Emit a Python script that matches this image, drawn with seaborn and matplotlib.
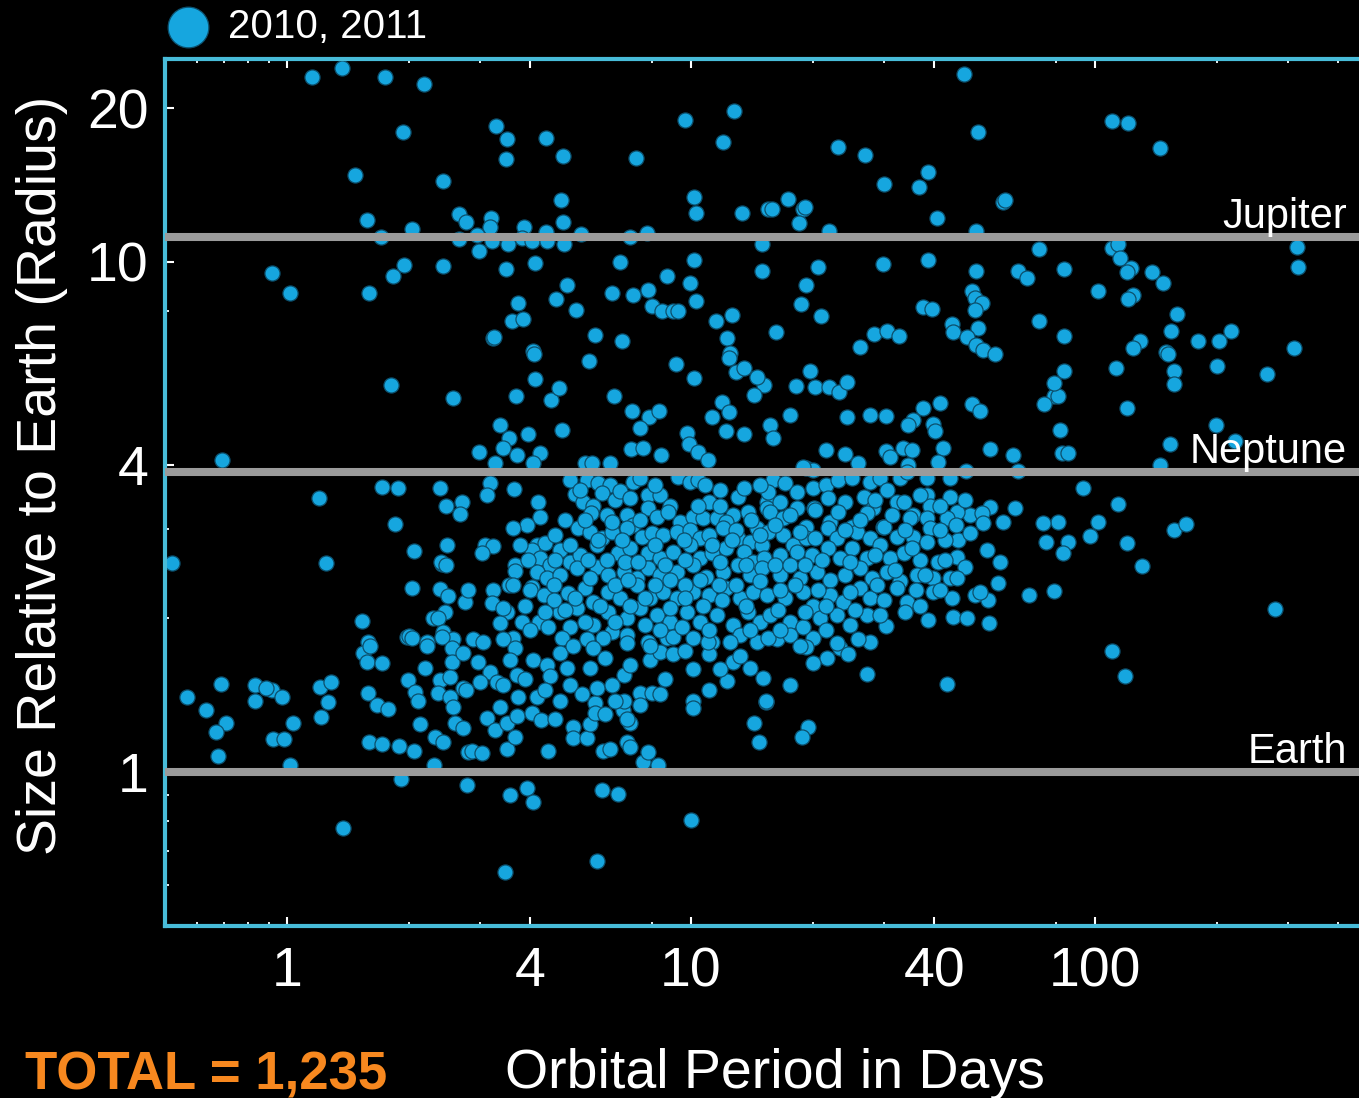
import matplotlib
matplotlib.use("Agg")
import matplotlib.pyplot as plt
from matplotlib.ticker import FixedLocator, FixedFormatter, NullFormatter
import pandas as pd
import seaborn as sns

# ---------------- data: (orbital period [days], radius [Earth radii]) ----------------
giants_short = [(1.15, 23.0), (1.37, 24.0), (1.75, 23.0), (2.18, 22.3), (1.94, 18.0), (1.47, 14.8),
                (2.43, 14.4), (1.58, 12.1), (2.67, 12.4), (2.77, 12.0), (1.71, 11.2), (2.04, 11.6),
                (2.67, 11.1), (1.95, 9.86), (2.43, 9.8), (1.83, 9.4), (0.92, 9.5), (1.02, 8.7), (1.6, 8.7)]

giants_mid = [(3.29, 18.5), (3.50, 17.4), (3.48, 15.9), (4.38, 17.5), (4.82, 16.1), (7.31, 16.0),
              (9.67, 19.0), (12.8, 19.8), (12.0, 17.2), (4.77, 13.2), (4.82, 12.0), (10.2, 13.4),
              (10.3, 12.5), (13.4, 12.5), (15.5, 12.7), (3.20, 12.2), (3.18, 11.7), (3.86, 11.7),
              (4.38, 11.45), (5.34, 11.35), (7.06, 11.2), (7.78, 11.4), (2.95, 11.3), (3.21, 11.0),
              (3.52, 10.85), (3.81, 11.15), (4.04, 11.0), (4.40, 11.0), (4.85, 10.85), (2.98, 10.5),
              (3.48, 9.7), (4.12, 9.95), (6.67, 10.0), (10.2, 10.1), (15.0, 10.85), (15.0, 9.6),
              (4.93, 9.0), (4.63, 8.46), (3.73, 8.3), (3.60, 7.66), (3.84, 7.73), (3.24, 7.1),
              (3.26, 7.12), (5.2, 8.05), (5.79, 7.2), (6.75, 7.0), (4.07, 6.7), (6.38, 8.7),
              (7.2, 8.6), (7.84, 8.8), (8.0, 8.2), (8.48, 8.0), (9.05, 8.0), (9.3, 8.0),
              (8.72, 9.4), (9.94, 9.1), (10.3, 8.4), (11.5, 7.66), (12.6, 7.87), (12.3, 7.1),
              (12.5, 6.63)]

giants_long = [(47.4, 23.4), (51.3, 18.0), (23.1, 16.8), (26.9, 16.2), (30.1, 14.2), (36.7, 14.0),
               (38.6, 15.0), (40.6, 12.2), (59.2, 13.1), (60.0, 13.2), (15.9, 12.7), (17.4, 13.3),
               (18.9, 12.7), (19.2, 12.8), (18.5, 11.9), (21.9, 11.5), (50.8, 11.5), (20.6, 9.78),
               (29.9, 9.9), (38.6, 10.1), (50.8, 9.6), (72.7, 10.6), (64.5, 9.6), (67.9, 9.3),
               (83.9, 9.7), (19.3, 9.0), (18.7, 8.28), (21.0, 7.83), (16.2, 7.3), (26.2, 6.81),
               (28.4, 7.23), (30.6, 7.33), (32.8, 7.16), (37.6, 8.16), (39.5, 8.1), (49.7, 8.78),
               (50.6, 8.5), (52.5, 8.3), (50.6, 8.05), (44.3, 7.54), (44.5, 7.3), (51.3, 7.43),
               (48.2, 7.13), (50.8, 6.88), (52.8, 6.72), (56.6, 6.59), (72.7, 7.67), (83.9, 7.16)]

giants_far = [(110, 18.9), (121, 18.7), (145, 16.7), (110, 10.65), (114, 10.85), (115, 10.2),
              (123, 9.73), (120, 9.55), (138, 9.55), (147, 9.1), (102, 8.77), (124, 8.6),
              (121, 8.46), (160, 7.9), (154, 7.33), (129, 7.0), (124, 6.78), (150, 6.66),
              (180, 7.0), (203, 7.0), (217, 7.33), (316, 10.7), (318, 9.78), (311, 6.78)]

far_out = [(83.9, 6.10), (113, 6.2), (152, 6.6), (157, 6.10), (157, 5.76), (200, 6.26), (267, 6.03),
           (79.3, 5.45), (81.0, 5.45), (120, 5.17), (81.9, 4.68), (199, 4.79), (222, 4.45),
           (153, 4.40), (82.8, 4.22), (85.5, 4.22), (145, 3.99), (93.2, 3.60), (114, 3.36),
           (81.1, 3.09), (102, 3.09), (97.2, 2.90), (85.5, 2.82), (83.5, 2.69), (120, 2.81),
           (157, 2.98), (168, 3.06), (131, 2.53), (279, 2.09), (79.3, 2.26)]

inner_mid = [(1.81, 5.74), (2.57, 5.41), (0.69, 4.09), (1.20, 3.44), (1.72, 3.62), (1.88, 3.60),
             (2.39, 3.60), (2.48, 3.32), (2.71, 3.39), (2.68, 3.20), (1.85, 3.06), (2.06, 2.71),
             (2.49, 2.79), (2.42, 2.56), (2.40, 2.58), (2.48, 2.55), (0.52, 2.57), (1.25, 2.57),
             (2.04, 2.29), (2.39, 2.28), (2.50, 2.21), (2.76, 2.15), (2.80, 2.27), (2.46, 2.06),
             (2.30, 2.0), (2.36, 2.0), (1.53, 1.98), (2.43, 1.88), (1.98, 1.84), (2.0, 1.85),
             (2.04, 1.83), (1.59, 1.80), (2.22, 1.80), (2.57, 1.82)]

inner_small = [(0.565, 1.40), (0.687, 1.49), (0.631, 1.32), (0.706, 1.25), (0.667, 1.20), (0.675, 1.075),
               (0.833, 1.48), (0.833, 1.38), (0.918, 1.45), (0.887, 1.46), (0.972, 1.40), (1.035, 1.25),
               (0.923, 1.16), (0.983, 1.16), (1.017, 1.03), (1.21, 1.47), (1.285, 1.50), (1.264, 1.37),
               (1.214, 1.28), (1.376, 0.777), (1.54, 1.71), (1.605, 1.77), (1.58, 1.64), (1.72, 1.635),
               (1.59, 1.43), (1.67, 1.35), (1.78, 1.33), (1.60, 1.145), (1.72, 1.135), (1.89, 1.125),
               (2.06, 1.10), (1.92, 0.97), (2.31, 1.03), (1.99, 1.515), (2.07, 1.435), (2.11, 1.38),
               (2.13, 1.24), (2.32, 1.17), (2.43, 1.145), (2.20, 1.60), (2.22, 1.77), (2.42, 1.84),
               (2.56, 1.75), (2.56, 1.64), (2.72, 1.71), (2.39, 1.515), (2.53, 1.535), (2.36, 1.43),
               (2.53, 1.40), (2.57, 1.34), (2.72, 1.46), (2.60, 1.25), (2.72, 1.22), (2.80, 1.095),
               (2.79, 0.945)]

small_mid = [(3.57, 0.90), (3.93, 0.93), (4.06, 0.874), (6.02, 0.92), (6.6, 0.905), (10.0, 0.805),
             (3.46, 0.637), (5.86, 0.67), (2.87, 1.10), (3.04, 1.09), (3.50, 1.11), (4.43, 1.10),
             (6.07, 1.10), (6.30, 1.11), (6.96, 1.145), (7.06, 1.12), (7.6, 1.046), (7.84, 1.094),
             (8.28, 1.03), (10.1, 1.38), (10.1, 1.335), (14.3, 1.25), (14.7, 1.145), (15.3, 1.37),
             (12.3, 1.51), (3.13, 1.275), (3.27, 1.21), (3.66, 1.17), (3.50, 1.25), (3.71, 1.29),
             (4.04, 1.305), (4.25, 1.265), (5.1, 1.225), (5.1, 1.166), (5.53, 1.166), (5.62, 1.24),
             (5.79, 1.365), (5.79, 1.305), (6.79, 1.32), (7.06, 1.25)]

small_long = [(16.3, 1.82), (20.0, 1.83), (19.3, 1.76), (23.4, 1.75), (24.5, 1.70), (21.7, 1.67),
              (20.0, 1.635), (27.7, 1.80), (27.3, 1.555), (43.0, 1.49), (17.6, 1.48), (15.1, 1.53),
              (15.35, 1.38), (19.5, 1.225), (18.8, 1.17), (110, 1.73), (118.6, 1.54)]

neptunes_long = [(79.3, 5.79), (74.7, 5.27), (19.7, 6.12), (18.2, 5.71), (20.3, 5.69), (22.0, 5.69),
                 (23.2, 5.56), (24.3, 5.82), (15.2, 5.74), (17.6, 5.0), (15.7, 4.79), (16.0, 4.52),
                 (24.3, 4.97), (27.7, 5.01), (30.3, 4.99), (37.6, 5.17), (41.3, 5.29), (35.5, 4.90),
                 (34.4, 4.79), (39.7, 4.81), (40.1, 4.66), (49.7, 5.27), (51.9, 5.10), (21.6, 4.28),
                 (24.0, 4.20), (25.9, 4.03), (30.3, 4.26), (31.1, 4.15), (33.4, 4.32), (35.3, 4.28),
                 (42.0, 4.32), (40.8, 4.05), (34.4, 4.0), (55.0, 4.30), (62.7, 4.18), (47.9, 3.89),
                 (64.5, 3.89), (19.3, 3.94), (20.1, 3.91), (55.0, 3.31), (63.4, 3.30), (59.3, 3.09),
                 (49.1, 3.19), (52.5, 3.22), (52.8, 3.08), (74.4, 3.08), (75.5, 2.82), (53.9, 2.72),
                 (58.2, 2.58), (57.4, 2.35), (54.4, 2.17), (50.5, 2.22), (68.7, 2.22), (44.5, 2.01),
                 (48.2, 2.00), (38.6, 1.99), (54.5, 1.96), (30.3, 1.93), (51.9, 2.25), (45.8, 2.85),
                 (49.1, 2.94), (42.5, 2.85), (45.6, 2.64), (47.6, 2.52), (43.8, 2.40), (45.6, 2.40)]

neptunes_mid = [(4.09, 6.61), (5.59, 6.40), (4.12, 5.89), (3.69, 5.46), (4.50, 5.36), (4.72, 5.66),
                (6.45, 5.46), (9.2, 6.31), (10.15, 5.92), (12.4, 6.48), (12.9, 6.08), (13.5, 6.19),
                (14.6, 5.95), (14.3, 5.48), (11.9, 5.31), (12.4, 5.08), (11.3, 4.97), (12.2, 4.66),
                (13.5, 4.60), (7.15, 5.11), (7.88, 4.97), (8.33, 5.11), (7.48, 4.73), (7.10, 4.30),
                (7.60, 4.32), (8.43, 4.18), (9.80, 4.62), (9.90, 4.39), (10.4, 4.24), (11.0, 4.09),
                (3.37, 4.79), (3.54, 4.51), (3.96, 4.60), (4.80, 4.68), (2.98, 4.24), (3.43, 4.32),
                (3.71, 4.18), (4.23, 4.22), (3.27, 4.03), (4.06, 4.03), (5.48, 4.03), (5.70, 4.03),
                (6.30, 4.03), (3.18, 3.69), (3.12, 3.49), (3.65, 3.59), (4.19, 3.39), (4.23, 3.16),
                (3.92, 3.05), (3.62, 3.01), (5.15, 3.51), (3.09, 2.79), (3.24, 2.77), (3.04, 2.69),
                (3.67, 2.55), (3.67, 2.48), (3.54, 2.33), (3.24, 2.27), (3.21, 2.14), (3.50, 2.06),
                (3.88, 2.12), (3.81, 1.97), (3.37, 1.96), (2.89, 1.82), (4.21, 1.97), (4.04, 2.30)]

core_a = [(5.53, 3.74), (5.89, 3.69), (6.30, 3.66), (7.19, 3.71), (9.29, 3.79), (9.94, 3.71),
          (10.4, 3.74), (10.8, 3.66), (5.41, 3.38), (5.72, 3.33), (6.02, 3.53), (6.48, 3.41),
          (6.67, 3.55), (7.06, 3.44), (7.82, 3.49), (8.38, 3.49), (8.87, 3.33), (11.1, 3.38),
          (13.1, 3.46), (13.5, 3.60), (15.4, 3.38), (5.66, 3.22), (6.19, 3.19), (6.93, 3.19),
          (7.19, 3.05), (7.82, 3.29), (8.24, 3.16), (9.39, 3.09), (10.1, 3.16), (10.7, 3.15),
          (11.6, 3.15), (12.7, 3.19), (13.8, 3.24), (14.6, 3.01), (15.4, 3.29), (12.2, 3.09),
          (5.26, 3.01), (5.62, 2.95), (6.02, 2.88), (6.39, 2.95), (6.93, 3.01), (7.55, 2.89),
          (8.00, 2.94), (8.53, 2.91), (9.23, 2.95), (9.94, 2.98), (10.5, 2.88), (11.1, 2.91),
          (12.0, 3.01), (13.1, 2.88), (14.0, 2.82), (15.0, 2.79), (4.15, 2.79), (4.35, 2.81),
          (4.04, 2.72), (4.74, 2.72), (5.02, 2.58), (5.31, 2.66), (5.86, 2.79), (6.59, 2.69),
          (7.06, 2.75), (7.82, 2.69), (8.38, 2.63), (9.02, 2.70), (9.94, 2.79), (10.5, 2.63),
          (11.3, 2.69), (12.2, 2.75), (13.5, 2.70), (14.2, 2.58), (15.2, 2.63), (4.23, 2.63),
          (4.48, 2.55), (4.15, 2.47), (4.40, 2.40), (4.74, 2.43), (5.22, 2.51), (5.86, 2.52),
          (6.24, 2.43), (6.82, 2.47), (7.35, 2.40), (7.82, 2.51), (8.38, 2.43), (9.23, 2.47),
          (10.1, 2.55), (10.9, 2.41), (12.0, 2.47), (13.1, 2.55), (14.0, 2.43), (15.0, 2.51),
          (3.62, 2.33), (4.00, 2.27), (4.32, 2.22), (4.58, 2.33), (4.97, 2.24), (5.47, 2.29),
          (5.72, 2.15), (6.24, 2.25), (6.67, 2.19), (7.35, 2.33), (7.92, 2.19), (8.53, 2.25),
          (9.23, 2.19), (10.1, 2.25), (11.1, 2.22), (12.2, 2.29), (13.2, 2.19), (14.2, 2.25),
          (15.4, 2.22), (3.43, 2.10), (4.74, 2.06), (5.22, 2.10), (5.72, 1.94), (6.24, 2.06),
          (6.93, 2.00), (7.48, 2.10), (8.24, 2.03), (8.87, 1.97), (9.77, 2.06), (10.5, 1.97),
          (11.6, 2.03), (12.7, 1.94), (13.8, 2.06), (14.8, 1.97), (5.02, 1.92), (6.39, 1.88),
          (4.80, 1.83), (5.53, 1.82), (6.07, 1.83), (6.93, 1.86), (7.82, 1.80), (8.72, 1.83),
          (10.1, 1.83), (11.3, 1.80), (13.2, 1.86), (14.6, 1.80), (3.05, 1.80), (3.62, 1.83)]

core_b = [(3.43, 1.82), (3.67, 1.75), (2.97, 1.64), (3.18, 1.57), (3.00, 1.50), (3.31, 1.50),
          (2.77, 1.45), (3.71, 1.55), (3.73, 1.40), (3.43, 1.48), (3.37, 1.34), (4.06, 1.66),
          (4.40, 1.62), (4.48, 1.54), (4.15, 1.40), (4.35, 1.45), (4.74, 1.71), (4.93, 1.60),
          (5.02, 1.48), (5.37, 1.42), (5.62, 1.60), (5.72, 1.75), (6.13, 1.67), (5.86, 1.46),
          (6.39, 1.48), (6.82, 1.55), (6.82, 1.38), (7.06, 1.62), (7.48, 1.43), (7.92, 1.66),
          (8.38, 1.72), (8.00, 1.43), (8.38, 1.42), (6.96, 1.27), (9.02, 1.70), (9.67, 1.73),
          (10.1, 1.59), (11.1, 1.70), (11.0, 1.80), (12.5, 1.80), (12.7, 1.64), (14.0, 1.60),
          (9.02, 1.84), (6.93, 1.79), (5.10, 1.77)]

core_c = [(18.9, 3.96), (16.0, 3.74), (17.1, 3.69), (18.3, 3.54), (20.1, 3.60), (21.6, 3.66),
          (23.1, 3.74), (25.1, 3.77), (27.7, 3.71), (29.4, 3.77), (32.9, 3.77), (34.2, 3.88),
          (38.4, 3.77), (43.8, 3.77), (15.5, 3.54), (16.6, 3.38), (18.3, 3.29), (20.2, 3.29),
          (21.8, 3.44), (24.1, 3.38), (26.8, 3.46), (28.2, 3.29), (30.5, 3.57), (32.3, 3.38),
          (33.6, 3.38), (35.5, 3.19), (38.4, 3.49), (39.1, 3.33), (43.8, 3.46), (45.6, 3.24),
          (15.7, 3.24), (16.9, 3.15), (19.3, 3.02), (20.3, 3.26), (22.1, 3.09), (25.0, 3.02),
          (27.2, 3.22), (29.9, 3.02), (34.8, 3.15), (38.4, 3.15), (39.1, 3.01), (43.0, 3.15),
          (15.5, 2.95), (16.9, 2.91), (17.9, 2.79), (19.3, 2.88), (21.8, 3.01), (23.0, 2.88),
          (25.7, 2.95), (27.7, 2.88), (30.1, 3.02), (32.3, 2.89), (35.5, 2.89), (38.4, 2.82),
          (16.6, 2.66), (18.3, 2.70), (19.9, 2.66), (21.8, 2.75), (23.4, 2.63), (25.0, 2.75),
          (27.2, 2.63), (29.4, 2.79), (31.1, 2.63), (33.6, 2.69), (36.9, 2.60), (40.8, 2.58),
          (16.6, 2.43), (18.6, 2.40), (20.5, 2.47), (22.1, 2.38), (24.1, 2.43), (26.2, 2.51),
          (28.1, 2.40), (30.5, 2.47), (32.9, 2.37), (36.3, 2.43), (39.7, 2.40), (17.1, 2.19),
          (18.9, 2.25), (20.1, 2.12), (22.1, 2.22), (23.8, 2.15), (26.2, 2.29), (27.7, 2.19),
          (28.9, 2.33), (32.3, 2.29), (34.2, 2.15), (36.9, 2.12), (39.7, 2.25), (44.3, 2.19),
          (15.7, 2.03), (17.6, 1.97), (18.9, 1.92), (20.9, 2.00), (23.0, 2.03), (24.8, 1.94),
          (27.2, 2.03), (15.5, 1.83), (17.6, 1.86), (23.0, 1.79)]

core_d = [(5.47, 3.12), (5.89, 2.85), (6.37, 3.09), (6.75, 2.85), (7.48, 3.12), (8.15, 2.79),
          (8.77, 3.24), (9.60, 2.85), (10.4, 3.33), (11.3, 2.79), (11.8, 3.33), (12.9, 2.98),
          (14.1, 3.12), (14.8, 2.91), (5.56, 2.60), (6.19, 2.60), (6.87, 2.58), (7.40, 2.58),
          (8.62, 2.55), (9.67, 2.60), (11.8, 2.58), (12.6, 2.85), (13.7, 2.55), (5.62, 2.40),
          (6.48, 2.33), (6.98, 2.38), (8.15, 2.33), (8.87, 2.38), (9.67, 2.33), (10.5, 2.38),
          (11.7, 2.33), (12.9, 2.33), (14.8, 2.37), (5.16, 2.19), (5.95, 2.12), (7.06, 2.12),
          (7.69, 2.19), (8.87, 2.10), (9.67, 2.19), (10.7, 2.12), (11.9, 2.17), (13.7, 2.12),
          (5.47, 1.97), (6.48, 1.97), (7.69, 1.94), (8.38, 1.90), (9.50, 1.92), (11.1, 1.90),
          (14.0, 1.90), (4.58, 2.17), (4.35, 2.06), (3.94, 2.60), (3.77, 2.79), (4.61, 2.91),
          (4.87, 3.12), (5.02, 2.79), (4.61, 2.60), (4.87, 2.08), (4.00, 1.90), (4.43, 1.92),
          (3.88, 1.52), (3.57, 1.66), (4.74, 1.38), (4.61, 1.27), (6.13, 1.30), (7.48, 1.35),
          (6.48, 1.38), (8.62, 1.52), (11.1, 1.45), (11.8, 1.59), (13.2, 1.69), (7.92, 1.77),
          (5.02, 3.74), (5.31, 3.57), (7.48, 3.77), (8.15, 3.66), (11.8, 3.57), (14.8, 3.66)]

core_e = [(16.1, 3.05), (17.6, 3.19), (18.6, 2.95), (20.3, 2.88), (23.1, 3.24), (24.1, 2.98),
          (26.2, 3.12), (28.6, 3.41), (31.4, 3.19), (33.9, 2.98), (36.9, 3.49), (41.3, 3.33),
          (45.2, 3.05), (47.7, 3.41), (41.3, 2.98), (16.1, 2.55), (17.6, 2.55), (19.1, 2.55),
          (21.1, 2.60), (24.8, 2.58), (28.6, 2.66), (32.0, 2.49), (35.3, 2.75), (38.0, 2.43),
          (42.5, 2.60), (16.6, 2.27), (18.1, 2.33), (20.6, 2.27), (24.8, 2.25), (30.1, 2.17),
          (36.1, 2.27), (41.3, 2.27), (16.4, 2.08), (19.1, 2.06), (21.6, 2.12), (25.4, 2.08),
          (29.4, 2.03), (33.9, 2.06), (16.6, 1.90), (21.6, 1.90), (25.9, 1.82), (18.6, 1.77)]

ref_names = ["Jupiter", "Neptune", "Earth"]
ref_radius = [11.2, 3.88, 1.0]

x_major = [1, 4, 10, 40, 100]
x_major_labels = ["1", "4", "10", "40", "100"]
x_minor = [0.6, 0.7, 0.8, 0.9, 2, 3, 8, 20, 30, 80, 200, 300, 400]
y_major = [1, 4, 10, 20]
y_major_labels = ["1", "4", "10", "20"]
y_minor = [0.6, 0.7, 0.8, 0.9, 2, 3, 8]

legend_label = "2010, 2011"
total_text = "TOTAL = 1,235"
x_title = "Orbital Period in Days"
y_title = "Size Relative to Earth (Radius)"

# ---------------- build ----------------
groups = [giants_short, giants_mid, giants_long, giants_far, far_out, inner_mid, inner_small,
          small_mid, small_long, neptunes_long, neptunes_mid, core_a, core_b, core_c, core_d, core_e]
rows = [pt for g in groups for pt in g]
df = pd.DataFrame(rows, columns=["period", "radius"])

plt.rcParams['font.family'] = ['Liberation Sans', 'DejaVu Sans']

W, H = 1359, 1098
fig = plt.figure(figsize=(W / 100, H / 100), dpi=100, facecolor="black")
ax = fig.add_axes([165.4 / W, 1 - 925.5 / H, (1358.9 - 165.4) / W, (925.5 - 59.0) / H])
ax.set_facecolor("black")

sns.scatterplot(data=df, x="period", y="radius", ax=ax, s=118, color="#16a6df",
                edgecolor="#0c4f6c", linewidth=0.9, label=legend_label, zorder=2)

ax.set_xscale("log")
ax.set_yscale("log")
ax.set_xlim(0.5, 450)
ax.set_ylim(0.5, 25)

for name, val in zip(ref_names, ref_radius):
    ax.axhline(val, color="#9b9b9b", lw=5.8, zorder=3)
    ax.annotate(name, xy=(0.99, val), xycoords=("axes fraction", "data"),
                xytext=(0, 6.5), textcoords="offset points", ha="right", va="baseline",
                color="white", fontsize=30, zorder=4)

ax.xaxis.set_major_locator(FixedLocator(x_major))
ax.xaxis.set_major_formatter(FixedFormatter(x_major_labels))
ax.xaxis.set_minor_locator(FixedLocator(x_minor))
ax.xaxis.set_minor_formatter(NullFormatter())
ax.yaxis.set_major_locator(FixedLocator(y_major))
ax.yaxis.set_major_formatter(FixedFormatter(y_major_labels))
ax.yaxis.set_minor_locator(FixedLocator(y_minor))
ax.yaxis.set_minor_formatter(NullFormatter())

ax.tick_params(which="both", direction="in", color="white", labelcolor="white",
               top=True, bottom=True, left=True, right=False)
ax.tick_params(which="major", length=6.5, width=1.5, labelsize=40)
ax.tick_params(which="minor", length=3, width=1.3)
ax.tick_params(axis="x", which="major", pad=15)
ax.tick_params(axis="y", which="major", pad=12)

for s in ["top", "bottom", "left"]:
    ax.spines[s].set_color("#48bcd9")
    ax.spines[s].set_linewidth(3)
ax.spines["right"].set_visible(False)

ax.set_xlabel(x_title, color="white", fontsize=40, va="baseline")
ax.xaxis.set_label_coords(0.511, -0.187)
ax.set_ylabel(y_title, color="white", fontsize=40, va="center", ha="center")
ax.yaxis.set_label_coords(-0.1034, 0.52)

ax.legend(loc="center left", bbox_to_anchor=(168 / W, 1 - 27 / H), bbox_transform=fig.transFigure,
          frameon=False, fontsize=29, markerscale=2.7, handlelength=1.0, handletextpad=0.5,
          borderpad=0, borderaxespad=0, labelcolor="white")

fig.text(25 / W, 1 - 1089 / H, total_text, color="#f7881f", fontsize=38, fontweight="bold",
         ha="left", va="baseline")

fig.savefig("out.png", dpi=100, facecolor="black")
